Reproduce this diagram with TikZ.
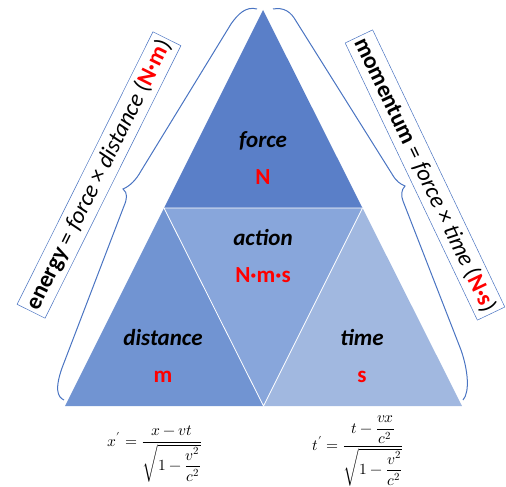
\documentclass[tikz,border=0pt]{standalone}
\usepackage{amsmath}
\usepackage{fontspec}
\usepackage{unicode-math}
\setmainfont{Carlito}
\setmathfont{Latin Modern Math}
\usepackage{xcolor}
\usetikzlibrary{positioning, calc}

\definecolor{topblue}{HTML}{5A7FC8}
\definecolor{leftblue}{HTML}{7194D2}
\definecolor{midblue}{HTML}{88A6DB}
\definecolor{rightblue}{HTML}{A1B8E0}
\definecolor{braceblue}{HTML}{4A74C2}
\definecolor{unitred}{HTML}{FF0000}

\begin{document}
\begin{tikzpicture}[
x=1pt, y=-1pt,
node distance=13pt,
every node/.style={font=\fontsize{23}{27}\selectfont},
quantity/.style={font=\fontsize{23}{27}\selectfont\bfseries\itshape, inner sep=1pt,
  text height=17pt, text depth=5pt},
unitlabel/.style={font=\fontsize{23}{27}\selectfont\bfseries, text=unitred, inner sep=1pt,
  text height=17pt, text depth=5pt},
relbox/.style={draw=braceblue, line width=0.5pt, inner xsep=3pt, inner ysep=5pt, fill=white,
  font=\fontsize{23.5}{27}\selectfont},
bracepath/.style={draw=braceblue, line width=1pt},
seam/.style={draw=white, line width=0.8pt},
formula/.style={font=\fontsize{15.5}{18}\selectfont, inner sep=0pt}
]
\useasboundingbox (0,0) rectangle (506,487);

% corners of the big triangle
\coordinate (apex) at (263,10);
\coordinate (bl) at (65,406);
\coordinate (br) at (462,406);
\coordinate (ml) at ($(apex)!0.5!(bl)$);
\coordinate (mr) at ($(apex)!0.5!(br)$);
\coordinate (mb) at ($(bl)!0.5!(br)$);

% the four triangles
\fill[topblue] (apex) -- (ml) -- (mr) -- cycle;
\fill[leftblue] (ml) -- (bl) -- (mb) -- cycle;
\fill[midblue] (ml) -- (mr) -- (mb) -- cycle;
\fill[rightblue] (mr) -- (mb) -- (br) -- cycle;
\draw[seam] (ml) -- (mr) -- (mb) -- cycle;

% labels
\node[quantity] (forcename) at (263,141.5) {force};
\node[unitlabel, below=of forcename] (forceunit) {N};
\node[quantity] (actionname) at (263,239.5) {action};
\node[unitlabel, below=of actionname] (actionunit) {N·m·s};
\node[quantity] (distname) at (163,339) {distance};
\node[unitlabel, below=of distname] (distunit) {m};
\node[quantity] (timename) at (362,339) {time};
\node[unitlabel, below=of timename] (timeunit) {s};

% braces
\draw[bracepath] (257,9) .. controls (246,6) and (238,14) .. (231,24)
  -- (141,171) .. controls (136,180) and (130,186) .. (123,189)
  .. controls (128,193) and (127,199) .. (124,206)
  -- (62,368) .. controls (55,388) and (57,397) .. (64,400);
\draw[bracepath] (273,9) .. controls (284,7) and (291,12) .. (296,21)
  -- (392,174) .. controls (396,181) and (400,184) .. (405,186)
  .. controls (401,190) and (401,196) .. (403,201)
  -- (461,350) .. controls (468,370) and (470,392) .. (463,400);

% relations
\node[relbox, rotate=63.5] (energybox) at (99,175)
  {\textbf{energy} = \textit{force} × \textit{distance} (\textcolor{unitred}{\textbf{N·m}})};
\node[relbox, rotate=-64.5] (momentumbox) at (425,175)
  {\textbf{momentum} = \textit{force} × \textit{time} (\textcolor{unitred}{\textbf{N·s}})};

% Lorentz transformation
\node[formula] (lorentzx) at (155,454)
  {$x^{\prime} = \dfrac{x - vt}{\sqrt{1-\dfrac{v^2}{c^2}}}$};
\node[formula] (lorentzt) at (358,451)
  {$t^{\prime} = \dfrac{t - \dfrac{vx}{c^2}}{\sqrt{1-\dfrac{v^2}{c^2}}}$};

\end{tikzpicture}
\end{document}
